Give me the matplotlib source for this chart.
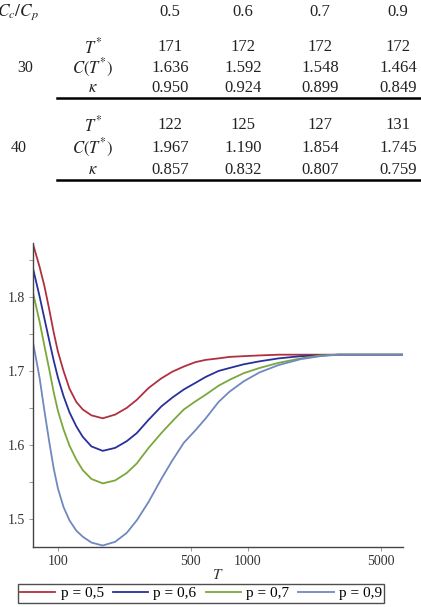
import matplotlib
matplotlib.use("Agg")
import matplotlib.pyplot as plt
from matplotlib.lines import Line2D

plt.rcParams['font.family'] = ['Liberation Serif', 'DejaVu Serif']
plt.rcParams['mathtext.fontset'] = 'stix'

# table data
ratios = ["0.5", "0.6", "0.7", "0.9"]
groups = ["30", "40"]
t_star = [[171, 172, 172, 172], [122, 125, 127, 131]]
c_star = [[1.636, 1.592, 1.548, 1.464], [1.967, 1.190, 1.854, 1.745]]
kappa = [[0.950, 0.924, 0.899, 0.849], [0.857, 0.832, 0.807, 0.759]]

# curves
T = [74, 80, 85, 90, 95, 100, 107, 115, 125, 135, 150, 172, 200, 230, 260, 300,
     350, 400, 460, 530, 600, 700, 800, 950, 1150, 1450, 1900, 2400, 3000, 4000, 6500]
c_p05 = [1.871, 1.841, 1.814, 1.783, 1.752, 1.726, 1.700, 1.676, 1.658, 1.648, 1.640,
         1.636, 1.641, 1.650, 1.661, 1.677, 1.690, 1.699, 1.706, 1.712, 1.715, 1.717,
         1.719, 1.720, 1.721, 1.722, 1.722, 1.722, 1.722, 1.722, 1.722]
c_p06 = [1.838, 1.801, 1.770, 1.741, 1.714, 1.691, 1.666, 1.644, 1.625, 1.611, 1.598,
         1.592, 1.596, 1.605, 1.616, 1.634, 1.652, 1.664, 1.675, 1.684, 1.692, 1.700,
         1.704, 1.709, 1.713, 1.717, 1.720, 1.721, 1.722, 1.722, 1.722]
c_p07 = [1.805, 1.767, 1.733, 1.702, 1.671, 1.646, 1.621, 1.599, 1.580, 1.566, 1.554,
         1.548, 1.552, 1.562, 1.575, 1.596, 1.616, 1.632, 1.648, 1.659, 1.668, 1.680,
         1.688, 1.697, 1.704, 1.711, 1.717, 1.721, 1.722, 1.722, 1.722]
c_p09 = [1.738, 1.691, 1.645, 1.604, 1.568, 1.541, 1.516, 1.498, 1.484, 1.476, 1.468,
         1.464, 1.469, 1.481, 1.498, 1.523, 1.554, 1.579, 1.603, 1.620, 1.636, 1.658,
         1.672, 1.686, 1.698, 1.708, 1.716, 1.720, 1.722, 1.722, 1.722]
series = [c_p05, c_p06, c_p07, c_p09]
labels = ["p = 0,5", "p = 0,6", "p = 0,7", "p = 0,9"]
colors = ["#b0303f", "#28309a", "#7aa83c", "#7088c0"]

W, H = 421, 607
fig = plt.figure(figsize=(W / 100, H / 100), dpi=100)


def px(x, y):
    return x / W, 1 - y / H


# ---- table ----
fs = 12
col_x = [170, 243, 320, 398]
fig.text(*px(-3, 12), r"$C_c/C_p$", fontsize=12.5, ha='left', va='center', color='#222222')
for x, r in zip(col_x, ratios):
    fig.text(*px(x, 12), r, fontsize=fs, ha='center', va='center', color='#222222')

block_y = [(47, 68, 88, 98, 25), (125, 148, 170, 180, 19)]
row_names = [r"$T^{*}$", r"$C(T^{*})$", r"$\kappa$"]
for g, (y1, y2, y3, yl, gx) in enumerate(block_y):
    fig.text(*px(gx, y2), groups[g], fontsize=fs - 0.5, ha='center', va='center', color='#222222')
    rows = [[str(v) for v in t_star[g]],
            ["%.3f" % v for v in c_star[g]],
            ["%.3f" % v for v in kappa[g]]]
    for name, vals, yy in zip(row_names, rows, (y1, y2, y3)):
        fig.text(*px(93, yy), name, fontsize=fs, ha='center', va='center', color='#222222')
        for x, v in zip(col_x, vals):
            fig.text(*px(x, yy), v, fontsize=fs, ha='center', va='center', color='#222222')
    x0, y0 = px(57, yl)
    x1, _ = px(W, yl)
    fig.add_artist(Line2D([x0, x1], [y0, y0], color='black', lw=1.8))

# ---- chart ----
ax = fig.add_axes([33 / W, 1 - 547 / H, (403 - 33) / W, (547 - 243) / H])
for ys, lab, col in zip(series, labels, colors):
    ax.plot(T, ys, color=col, lw=1.3, label=lab)

ax.set_xscale('log')
ax.set_xlim(73.9, 6550)
ax.set_ylim(1.462, 1.873)
ax.set_xticks([100, 500, 1000, 5000])
ax.set_xticklabels(["100", "500", "1000", "5000"])
ax.xaxis.set_minor_locator(matplotlib.ticker.NullLocator())
ax.set_yticks([1.5, 1.55, 1.6, 1.65, 1.7, 1.75, 1.8, 1.85])
ax.set_yticklabels(["1.5", "", "1.6", "", "1.7", "", "1.8", ""])
ax.tick_params(axis='both', direction='out', length=3, width=0.6, color='#888888',
               labelsize=10, labelcolor='#333333', pad=3)
for s in ['top', 'right']:
    ax.spines[s].set_visible(False)
for s in ['left', 'bottom']:
    ax.spines[s].set_color('#444444')
    ax.spines[s].set_linewidth(1.0)
ax.set_xlabel(r"$T$", fontsize=11, labelpad=0, color='#333333')

leg = fig.legend(*ax.get_legend_handles_labels(), loc='center',
                 bbox_to_anchor=px(201, 593.5), ncol=4, fontsize=11,
                 frameon=True, fancybox=False, edgecolor='#222222',
                 handlelength=2.3, handletextpad=0.35, columnspacing=0.6,
                 borderpad=0.15, borderaxespad=0)
leg.get_frame().set_linewidth(1.0)

fig.savefig("out.png", dpi=100)
